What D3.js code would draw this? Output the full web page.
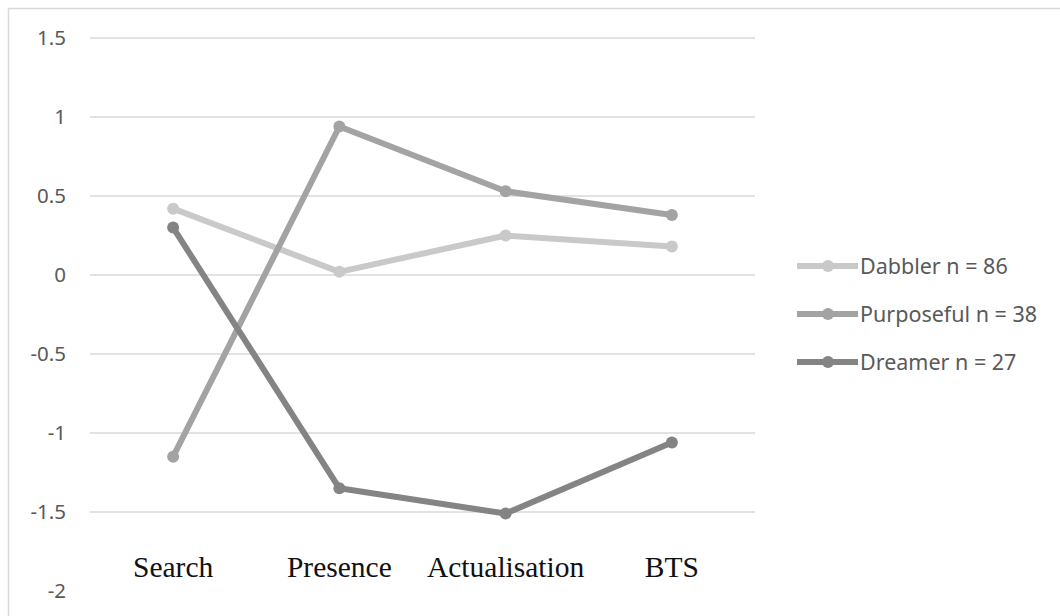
<!doctype html>
<html>
<head>
<meta charset="utf-8">
<script src="https://d3js.org/d3.v7.min.js"></script>
<style>
  body { margin: 0; background: #fff; }
</style>
</head>
<body>
<script>
// ---- data ----
var categories = ["Search", "Presence", "Actualisation", "BTS"];
var seriesNames = ["Dabbler n = 86", "Purposeful n = 38", "Dreamer n = 27"];
var dabbler    = [0.42, 0.02, 0.25, 0.18];
var purposeful = [-1.15, 0.94, 0.53, 0.38];
var dreamer    = [0.30, -1.35, -1.51, -1.06];
var yTicks = [1.5, 1, 0.5, 0, -0.5, -1, -1.5, -2];
var colors = ["#c9c9c9", "#a3a3a3", "#848484"];

var series = [dabbler, purposeful, dreamer].map(function(v, i) {
    return {name: seriesNames[i], values: v, color: colors[i]};
});

var W = 1060, H = 616;
var svg = d3.select("body").append("svg").attr("width", W).attr("height", H);

// chart frame (only top and left edges show)
svg.append("path")
    .attr("d", "M8.5," + H + "V8.5H" + W)
    .attr("fill", "none").attr("stroke", "#d9d9d9").attr("stroke-width", 1.5);

var left = 90, right = 755;
var x = d3.scaleBand().domain(categories).range([left, right]);
var y = d3.scaleLinear().domain([-2, 1.5]).range([591, 38]);

// gridlines (no line at -2)
svg.append("g").selectAll("line")
    .data(yTicks.filter(function(t) { return t > -2; }))
    .enter().append("line")
    .attr("x1", left).attr("x2", right)
    .attr("y1", function(d) { return y(d); })
    .attr("y2", function(d) { return y(d); })
    .attr("stroke", "#d9d9d9").attr("stroke-width", 1.5);

// y labels
svg.append("g").selectAll("text")
    .data(yTicks)
    .enter().append("text")
    .attr("x", 66)
    .attr("y", function(d) { return y(d); })
    .attr("dy", "0.36em")
    .attr("text-anchor", "end")
    .style("font-family", "'Noto Sans', sans-serif")
    .style("font-size", "20.5px")
    .style("fill", "#595959")
    .text(function(d) { return d; });

// category labels
svg.append("g").selectAll("text")
    .data(categories)
    .enter().append("text")
    .attr("x", function(d) { return x(d) + x.bandwidth() / 2; })
    .attr("y", 577)
    .attr("text-anchor", "middle")
    .style("font-family", "'Liberation Serif', 'Times New Roman', serif")
    .style("font-size", "29.5px")
    .style("fill", "#111")
    .text(function(d) { return d; });

var line = d3.line()
    .x(function(d, i) { return x(categories[i]) + x.bandwidth() / 2; })
    .y(function(d) { return y(d); });

var sg = svg.append("g").selectAll("g").data(series).enter().append("g");

sg.append("path")
    .attr("d", function(d) { return line(d.values); })
    .attr("fill", "none")
    .attr("stroke", function(d) { return d.color; })
    .attr("stroke-width", 6)
    .attr("stroke-linejoin", "round");

sg.selectAll("circle")
    .data(function(d) { return d.values.map(function(v) { return {v: v, c: d.color}; }); })
    .enter().append("circle")
    .attr("cx", function(d, i) { return x(categories[i]) + x.bandwidth() / 2; })
    .attr("cy", function(d) { return y(d.v); })
    .attr("r", 6)
    .attr("fill", function(d) { return d.c; });

// legend
var lg = svg.append("g").selectAll("g").data(series).enter().append("g")
    .attr("transform", function(d, i) { return "translate(797," + (266 + i * 48) + ")"; });

lg.append("line")
    .attr("x1", 0).attr("x2", 61).attr("y1", 0).attr("y2", 0)
    .attr("stroke", function(d) { return d.color; })
    .attr("stroke-width", 6);

lg.append("circle")
    .attr("cx", 31).attr("cy", 0).attr("r", 6)
    .attr("fill", function(d) { return d.color; });

lg.append("text")
    .attr("x", 63).attr("y", 0).attr("dy", "0.36em")
    .style("font-family", "'Noto Sans', sans-serif")
    .style("font-size", "21.5px")
    .style("fill", "#595959")
    .text(function(d) { return d.name; });
</script>
</body>
</html>
